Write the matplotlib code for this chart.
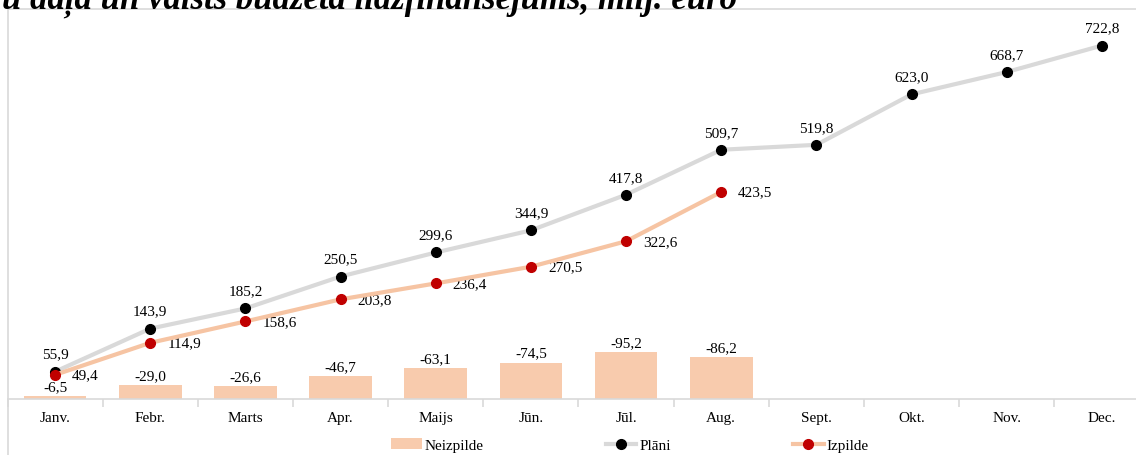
import matplotlib.pyplot as plt
from matplotlib.patches import Rectangle, Patch
from matplotlib.lines import Line2D

plt.rcParams["font.family"] = ["Liberation Serif", "DejaVu Serif"]

months = ["Janv.", "Febr.", "Marts", "Apr.", "Maijs", "Jūn.", "Jūl.", "Aug.",
          "Sept.", "Okt.", "Nov.", "Dec."]
plani = [55.9, 143.9, 185.2, 250.5, 299.6, 344.9, 417.8, 509.7, 519.8, 623.0, 668.7, 722.8]
izpilde = [49.4, 114.9, 158.6, 203.8, 236.4, 270.5, 322.6, 423.5]
neizpilde = [-6.5, -29.0, -26.6, -46.7, -63.1, -74.5, -95.2, -86.2]

title = "ES fondu daļa un valsts budžeta līdzfinansējums, milj. euro"

def fmt(v):
    return f"{v:.1f}".replace(".", ",")

W, H = 1136, 456
fig = plt.figure(figsize=(W / 100, H / 100), dpi=100)

# chart area border
fig.patches.append(Rectangle((8 / W, -0.1), 1.2, 1.1 - 10 / H, transform=fig.transFigure,
                             fill=False, edgecolor="#D9D9D9", linewidth=1.2))

ax = fig.add_axes([7.5 / W, 1 - 400 / H, 1142 / W, 370 / H])
ax.set_xlim(-0.5, 11.5)
ax.set_ylim(0, 370 / 0.489)

x_all = list(range(len(months)))
x_done = x_all[:len(izpilde)]

ax.bar(x_done, [abs(v) for v in neizpilde], width=0.66, color="#F8CBAD", zorder=1)
ax.plot(x_all, plani, color="#D9D9D9", lw=3, marker="o", ms=7,
        mfc="black", mec="black", zorder=3)
ax.plot(x_done, izpilde, color="#F6C4A3", lw=3, marker="o", ms=7,
        mfc="#C00000", mec="#C00000", zorder=4)

for xi, v in zip(x_done, neizpilde):
    ax.annotate(fmt(v), (xi, abs(v)), xytext=(0, 3), textcoords="offset pixels",
                ha="center", va="bottom", fontsize=11)
for xi, v in zip(x_all, plani):
    ax.annotate(fmt(v), (xi, v), xytext=(0, 11), textcoords="offset pixels",
                ha="center", va="bottom", fontsize=11)
for xi, v in zip(x_done, izpilde):
    ax.annotate(fmt(v), (xi, v), xytext=(17, 0), textcoords="offset pixels",
                ha="left", va="center", fontsize=11)

for s in ["top", "right", "left"]:
    ax.spines[s].set_visible(False)
ax.spines["bottom"].set_color("#D9D9D9")
ax.spines["bottom"].set_linewidth(1.2)
ax.set_yticks([])
ax.set_xticks(x_all)
ax.set_xticklabels(months, fontsize=11)
ax.set_xticks([i + 0.5 for i in range(-1, 12)], minor=True)
ax.tick_params(axis="x", which="major", length=0, pad=9)
ax.tick_params(axis="x", which="minor", length=6, color="#D9D9D9", width=1.2)

handles = [Patch(facecolor="#F8CBAD", edgecolor="none"),
           Line2D([], [], color="#D9D9D9", lw=3, marker="o", ms=7, mfc="black", mec="black"),
           Line2D([], [], color="#F6C4A3", lw=3, marker="o", ms=7, mfc="#C00000", mec="#C00000")]
fig.legend(handles, ["Neizpilde", "Plāni", "Izpilde"], loc="center",
           bbox_to_anchor=(630 / W, 1 - 446 / H), ncol=3, frameon=False, fontsize=11,
           columnspacing=8.0, handlelength=2.0, handletextpad=0.2)

fig.text(737 / W, 1 - 9 / H, title, ha="right", va="baseline", fontsize=25,
         style="italic", fontweight="bold")

fig.savefig("out.png", dpi=100)
